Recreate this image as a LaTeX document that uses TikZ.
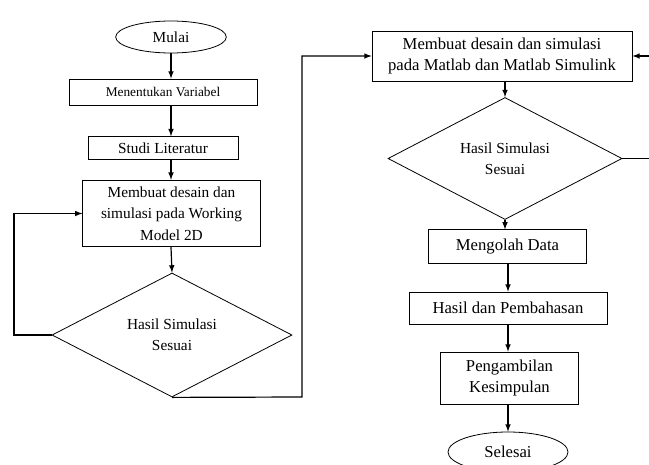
\documentclass[tikz,border=0pt]{standalone}
\usepackage{fontspec}
\setmainfont{Liberation Serif}
\usetikzlibrary{calc}
\usetikzlibrary{arrows,shapes.geometric}
\tikzset{
  kotak/.style={draw,rectangle,inner sep=0pt,align=center,line width=0.6pt},
  ujung/.style={draw,ellipse,inner sep=0pt,line width=0.6pt},
  cek/.style={draw,diamond,inner sep=0pt,align=center,line width=0.6pt},
  alur/.style={->,>=latex,line width=0.9pt},
  kecil/.style={font=\fontsize{10}{12}\selectfont},
  sedang/.style={font=\fontsize{11.5}{16}\selectfont},
  besar/.style={font=\fontsize{12.5}{16}\selectfont}
}

\begin{document}
\begin{tikzpicture}[x=0.75pt,y=-0.75pt]
  \useasboundingbox (0,0) rectangle (649,464);
  \node[ujung,sedang,minimum width=83pt,minimum height=24pt] (M) at (171,37) {Mulai};
  \node[kotak,kecil,minimum width=141pt,minimum height=19.5pt] (V) at (163,92) {Menentukan Variabel};
  \node[kotak,sedang,minimum width=112.5pt,minimum height=17pt] (L) at (163,148) {Studi Literatur};
  \node[kotak,sedang,minimum width=133pt,minimum height=50pt] (W) at (171.5,213.5) {Membuat desain dan\\simulasi pada Working\\Model 2D};
  \node[cek,sedang,minimum width=180pt,minimum height=93pt] (H) at (172,335) {Hasil Simulasi\\Sesuai};
  \node[kotak,besar,minimum width=195pt,minimum height=37.5pt] (S) at (502,56) {Membuat desain dan simulasi\\pada Matlab dan Matlab Simulink};
  \node[cek,sedang,minimum width=175.5pt,minimum height=65pt] (H') at (505,158.5) {Hasil Simulasi\\Sesuai};
  \node[kotak,besar,minimum width=118pt,minimum height=25pt] (D) at (507.5,246.5) {Mengolah Data};
  \node[kotak,besar,minimum width=148.5pt,minimum height=24pt] (P) at (508,308) {Hasil dan Pembahasan};
  \node[kotak,besar,minimum width=104pt,minimum height=39pt] (K) at (509.5,378) {Pengambilan\\Kesimpulan};
  \node[ujung,besar,minimum width=90pt,minimum height=30pt] (E) at (508,452) {Selesai};
  \coordinate (C) at (14,335);
  \coordinate (C') at (302,397);
  \coordinate (C'') at (656,158.5);
  \draw[alur] (M.south) -- (M.south|-V.north);
  \draw[alur] (M.south|-V.south) -- (M.south|-L.north);
  \draw[alur] (M.south|-L.south) -- (M.south|-W.north);
  \draw[alur] (M.south|-W.south) -- (H.north);
  \draw[alur] (H.west) -- (C) |- (W.west);
  \draw[alur] (H.south) -- (C') |- (S.west);
  \draw[alur] (H'.north|-S.south) -- (H'.north);
  \draw[alur] (H'.east) -- (C'') |- (S.east);
  \draw[alur] (H'.south) -- (H'.south|-D.north);
  \draw[alur] (P.north|-D.south) -- (P.north);
  \draw[alur] (P.south) -- (P.south|-K.north);
  \draw[alur] (P.south|-K.south) -- (P.south|-E.north);
\end{tikzpicture}
\end{document}
